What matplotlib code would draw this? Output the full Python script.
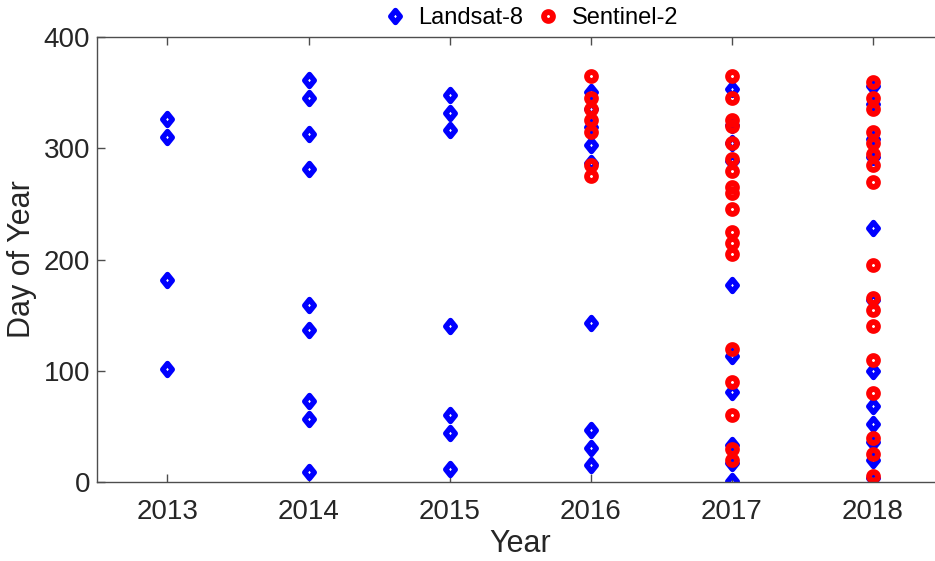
import numpy as np
import matplotlib.pyplot as plt
from matplotlib.path import Path

# day-of-year of acquisitions
years = [2013, 2014, 2015, 2016, 2017, 2018]

landsat = {
    2013: [102, 182, 310, 326],
    2014: [9, 57, 73, 137, 159, 281, 313, 345, 361],
    2015: [12, 44, 60, 140, 316, 332, 348],
    2016: [15, 31, 47, 143, 287, 303, 319, 335, 351],
    2017: [1, 17, 33, 81, 113, 177, 289, 305, 321, 353],
    2018: [4, 20, 36, 52, 68, 100, 164, 228, 292, 308, 340, 356],
}

sentinel = {
    2016: [275, 285, 315, 325, 335, 345, 365],
    2017: [20, 30, 60, 90, 120, 205, 215, 225, 245, 260, 265, 280, 290,
           305, 320, 325, 345, 365],
    2018: [5, 25, 40, 80, 110, 140, 155, 165, 195, 270, 285, 295, 305,
           315, 335, 345, 360],
}

plt.rcParams['font.family'] = ['Liberation Sans', 'DejaVu Sans']

x_l = [y for y in landsat for _ in landsat[y]]
d_l = [d for y in landsat for d in landsat[y]]
x_s = [y for y in sentinel for _ in sentinel[y]]
d_s = [d for y in sentinel for d in sentinel[y]]

# taller-than-wide diamond like matlab's 'd'
diamond = Path([(0, 1), (0.8, 0), (0, -1), (-0.8, 0), (0, 1)],
               [Path.MOVETO, Path.LINETO, Path.LINETO, Path.LINETO, Path.CLOSEPOLY])

fig = plt.figure(figsize=(9.35, 5.61), dpi=100)
ax = fig.add_axes([0.1037, 0.1408, 0.9053, 0.7932])

ax.plot(x_l, d_l, linestyle='none', marker=diamond, markersize=8.6,
        markerfacecolor='none', markeredgecolor='blue', markeredgewidth=3.9,
        label='Landsat-8')
ax.plot(x_s, d_s, linestyle='none', marker='o', markersize=6.4,
        markerfacecolor='none', markeredgecolor='red', markeredgewidth=4.2,
        label='Sentinel-2')

ax.set_xlim(2012.5, 2018.5)
ax.set_ylim(0, 400)
ax.set_xticks(years)
ax.set_yticks([0, 100, 200, 300, 400])

gray = '#262626'
for s in ax.spines.values():
    s.set_color('#4d4d4d')
    s.set_linewidth(1.0)
ax.tick_params(direction='in', length=6, width=1.0, color='#4d4d4d',
               labelsize=20, labelcolor=gray, top=True, right=True)
ax.tick_params(axis='y', pad=5)
ax.tick_params(axis='x', pad=12)

ax.set_xlabel('Year', fontsize=22, color=gray, labelpad=3)
ax.set_ylabel('Day of Year', fontsize=22, color=gray, labelpad=5)

fig.legend(loc='center', bbox_to_anchor=(0.5674, 0.968), ncol=2, frameon=False,
           fontsize=17, handletextpad=0.5, columnspacing=0.55, handlelength=1.0)

fig.savefig('out.png', dpi=100)
